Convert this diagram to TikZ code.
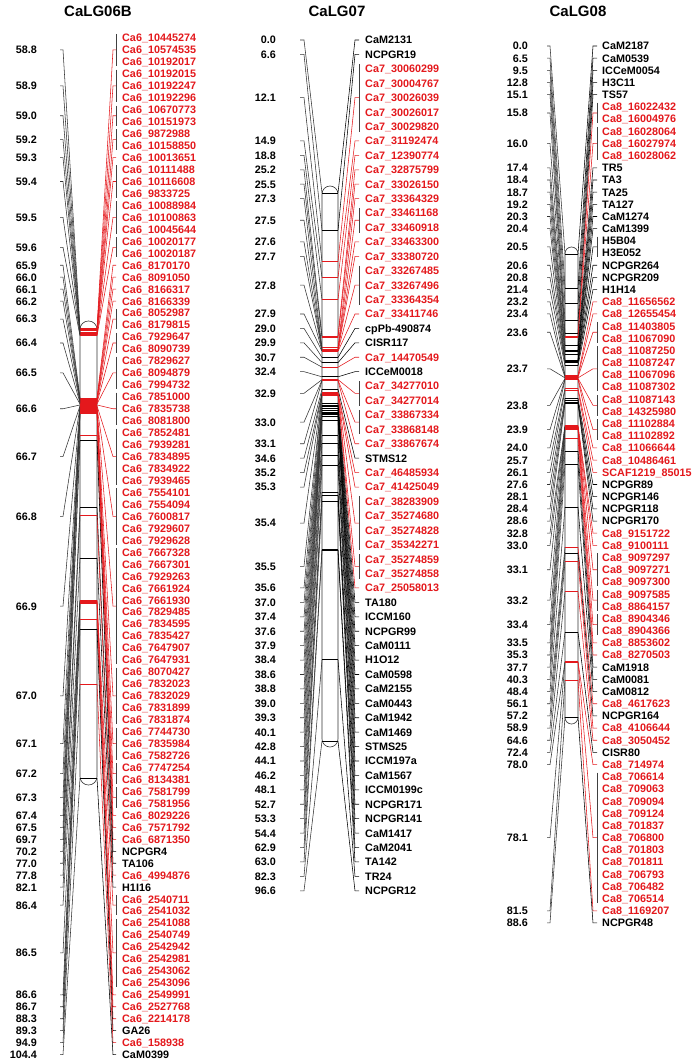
\documentclass[tikz,border=0pt]{standalone}
\usepackage{fontspec}
\setmainfont{Liberation Sans}
\definecolor{mkred}{RGB}{228,24,28}
\newcount\lblidx
% column parameters are set with \def before each column
\newcommand{\mg}[3]{%
  \pgfmathtruncatemacro{\gfirst}{\the\lblidx}%
  \foreach \nm in {#3}{%
    \pgfmathtruncatemacro{\ii}{\the\lblidx}%
    \pgfmathsetmacro{\yy}{\cYzero+\ii*\cDy}%
    \node[mk,text=#2] (m\cid-\ii) at (\cTextL,\yy) {\nm};%
    \global\advance\lblidx by 1\relax
  }%
  \pgfmathtruncatemacro{\glast}{\the\lblidx-1}%
  \pgfmathsetmacro{\yf}{\cYzero+\gfirst*\cDy}%
  \pgfmathsetmacro{\yl}{\cYzero+\glast*\cDy}%
  \pgfmathsetmacro{\yc}{(\yf+\yl)/2}%
  \pgfmathsetmacro{\yb}{\cBarTop+(#1-\cCmZero)*\cScale}%
  \node[poslbl] (p\cid-\gfirst) at (\cTextR,\yc) {#1};%
  \coordinate (tla\cid-\gfirst) at (\cTLa,\yc);%
  \coordinate (tlb\cid-\gfirst) at (\cTLb,\yc);%
  \coordinate (bl\cid-\gfirst) at (\cBL,\yb);%
  \coordinate (br\cid-\gfirst) at (\cBR,\yb);%
  \coordinate (tra\cid-\gfirst) at (\cTRa,\yc);%
  \coordinate (trb\cid-\gfirst) at (\cTRb,\yc);%
  \draw[conn] (tla\cid-\gfirst) -- (tlb\cid-\gfirst) -- (bl\cid-\gfirst);%
  \draw[conn,draw=#2] (br\cid-\gfirst) -- (tra\cid-\gfirst) -- (trb\cid-\gfirst);%
  \draw[barline,draw=#2] (bl\cid-\gfirst) -- (br\cid-\gfirst);%
  \ifnum\glast>\gfirst\relax
    \pgfmathsetmacro{\ya}{\yf-0.35*\cDy}%
    \pgfmathsetmacro{\yz}{\yl+0.35*\cDy}%
    \coordinate (bka\cid-\gfirst) at (\cTRb,\ya);%
    \coordinate (bkz\cid-\gfirst) at (\cTRb,\yz);%
    \draw[bracketline] (bka\cid-\gfirst) -- (bkz\cid-\gfirst);%
  \fi
}
\begin{document}
\begin{tikzpicture}[x=1pt,y=-1pt,
  mk/.style={font=\bfseries\fontsize{10.8}{12}\selectfont, inner sep=0pt, anchor=west, text height=7.8pt, text depth=0pt},
  poslbl/.style={font=\bfseries\fontsize{10.8}{12}\selectfont, inner sep=0pt, anchor=east, text height=7.8pt, text depth=0pt},
  ttl/.style={font=\bfseries\fontsize{15}{17}\selectfont, inner sep=0pt},
  conn/.style={draw=black!80, line width=0.55pt},
  barline/.style={line width=0.8pt},
  bracketline/.style={draw=black!75, line width=0.6pt},
  barbody/.style={draw=black!80, fill=white, line width=0.6pt}]
\useasboundingbox[fill=white] (0,0) rectangle (695,1063);
% titles
\node[ttl] (t1) at (98,11) {CaLG06B};
\node[ttl] (t2) at (337,11) {CaLG07};
\node[ttl] (t3) at (578,11) {CaLG08};
% ---------------- CaLG06B
\def\cid{a}\def\cYzero{38}\def\cDy{11.96}\def\cBarTop{328}\def\cCmZero{58.8}\def\cScale{9.868}
\def\cTextR{37}\def\cTLa{60}\def\cTLb{63}\def\cBL{80}\def\cBR{97}\def\cTRa{113}\def\cTRb{116}\def\cTextL{122}
\draw[barbody,rounded corners=8.4pt] (80,321) rectangle (97,785);
\global\lblidx=0
\mg{58.8}{mkred}{Ca6\_10445274,Ca6\_10574535,Ca6\_10192017}
\mg{58.9}{mkred}{Ca6\_10192015,Ca6\_10192247,Ca6\_10192296}
\mg{59.0}{mkred}{Ca6\_10670773,Ca6\_10151973}
\mg{59.2}{mkred}{Ca6\_9872988,Ca6\_10158850}
\mg{59.3}{mkred}{Ca6\_10013651}
\mg{59.4}{mkred}{Ca6\_10111488,Ca6\_10116608,Ca6\_9833725}
\mg{59.5}{mkred}{Ca6\_10088984,Ca6\_10100863,Ca6\_10045644}
\mg{59.6}{mkred}{Ca6\_10020177,Ca6\_10020187}
\mg{65.9}{mkred}{Ca6\_8170170}
\mg{66.0}{mkred}{Ca6\_8091050}
\mg{66.1}{mkred}{Ca6\_8166317}
\mg{66.2}{mkred}{Ca6\_8166339}
\mg{66.3}{mkred}{Ca6\_8052987,Ca6\_8179815}
\mg{66.4}{mkred}{Ca6\_7929647,Ca6\_8090739}
\mg{66.5}{mkred}{Ca6\_7829627,Ca6\_8094879,Ca6\_7994732}
\mg{66.6}{mkred}{Ca6\_7851000,Ca6\_7835738,Ca6\_8081800}
\mg{66.7}{mkred}{Ca6\_7852481,Ca6\_7939281,Ca6\_7834895,Ca6\_7834922,Ca6\_7939465}
\mg{66.8}{mkred}{Ca6\_7554101,Ca6\_7554094,Ca6\_7600817,Ca6\_7929607,Ca6\_7929628}
\mg{66.9}{mkred}{Ca6\_7667328,Ca6\_7667301,Ca6\_7929263,Ca6\_7661924,Ca6\_7661930,Ca6\_7829485,Ca6\_7834595,Ca6\_7835427,Ca6\_7647907,Ca6\_7647931}
\mg{67.0}{mkred}{Ca6\_8070427,Ca6\_7832023,Ca6\_7832029,Ca6\_7831899,Ca6\_7831874}
\mg{67.1}{mkred}{Ca6\_7744730,Ca6\_7835984,Ca6\_7582726}
\mg{67.2}{mkred}{Ca6\_7747254,Ca6\_8134381}
\mg{67.3}{mkred}{Ca6\_7581799,Ca6\_7581956}
\mg{67.4}{mkred}{Ca6\_8029226}
\mg{67.5}{mkred}{Ca6\_7571792}
\mg{69.7}{mkred}{Ca6\_6871350}
\mg{70.2}{black}{NCPGR4}
\mg{77.0}{black}{TA106}
\mg{77.8}{mkred}{Ca6\_4994876}
\mg{82.1}{black}{H1I16}
\mg{86.4}{mkred}{Ca6\_2540711,Ca6\_2541032}
\mg{86.5}{mkred}{Ca6\_2541088,Ca6\_2540749,Ca6\_2542942,Ca6\_2542981,Ca6\_2543062,Ca6\_2543096}
\mg{86.6}{mkred}{Ca6\_2549991}
\mg{86.7}{mkred}{Ca6\_2527768}
\mg{88.3}{mkred}{Ca6\_2214178}
\mg{89.3}{black}{GA26}
\mg{94.9}{mkred}{Ca6\_158938}
\mg{104.4}{black}{CaM0399}
% ---------------- CaLG07
\def\cid{b}\def\cYzero{40}\def\cDy{14.42}\def\cBarTop{193}\def\cCmZero{0}\def\cScale{5.673}
\def\cTextR{276}\def\cTLa{300}\def\cTLb{304}\def\cBL{322}\def\cBR{338}\def\cTRa{355}\def\cTRb{359}\def\cTextL{365}
\draw[barbody,rounded corners=8pt] (322,186) rectangle (338,747);
\global\lblidx=0
\mg{0.0}{black}{CaM2131}
\mg{6.6}{black}{NCPGR19}
\mg{12.1}{mkred}{Ca7\_30060299,Ca7\_30004767,Ca7\_30026039,Ca7\_30026017,Ca7\_30029820}
\mg{14.9}{mkred}{Ca7\_31192474}
\mg{18.8}{mkred}{Ca7\_12390774}
\mg{25.2}{mkred}{Ca7\_32875799}
\mg{25.5}{mkred}{Ca7\_33026150}
\mg{27.3}{mkred}{Ca7\_33364329}
\mg{27.5}{mkred}{Ca7\_33461168,Ca7\_33460918}
\mg{27.6}{mkred}{Ca7\_33463300}
\mg{27.7}{mkred}{Ca7\_33380720}
\mg{27.8}{mkred}{Ca7\_33267485,Ca7\_33267496,Ca7\_33364354}
\mg{27.9}{mkred}{Ca7\_33411746}
\mg{29.0}{black}{cpPb-490874}
\mg{29.9}{black}{CISR117}
\mg{30.7}{mkred}{Ca7\_14470549}
\mg{32.4}{black}{ICCeM0018}
\mg{32.9}{mkred}{Ca7\_34277010,Ca7\_34277014}
\mg{33.0}{mkred}{Ca7\_33867334,Ca7\_33868148}
\mg{33.1}{mkred}{Ca7\_33867674}
\mg{34.6}{black}{STMS12}
\mg{35.2}{mkred}{Ca7\_46485934}
\mg{35.3}{mkred}{Ca7\_41425049}
\mg{35.4}{mkred}{Ca7\_38283909,Ca7\_35274680,Ca7\_35274828,Ca7\_35342271}
\mg{35.5}{mkred}{Ca7\_35274859,Ca7\_35274858}
\mg{35.6}{mkred}{Ca7\_25058013}
\mg{37.0}{black}{TA180}
\mg{37.4}{black}{ICCM160}
\mg{37.6}{black}{NCPGR99}
\mg{37.9}{black}{CaM0111}
\mg{38.4}{black}{H1O12}
\mg{38.6}{black}{CaM0598}
\mg{38.8}{black}{CaM2155}
\mg{39.0}{black}{CaM0443}
\mg{39.3}{black}{CaM1942}
\mg{40.1}{black}{CaM1469}
\mg{42.8}{black}{STMS25}
\mg{44.1}{black}{ICCM197a}
\mg{46.2}{black}{CaM1567}
\mg{48.1}{black}{ICCM0199c}
\mg{52.7}{black}{NCPGR171}
\mg{53.3}{black}{NCPGR141}
\mg{54.4}{black}{CaM1417}
\mg{62.9}{black}{CaM2041}
\mg{63.0}{black}{TA142}
\mg{82.3}{black}{TR24}
\mg{96.6}{black}{NCPGR12}
% ---------------- CaLG08
\def\cid{c}\def\cYzero{46}\def\cDy{12.18}\def\cBarTop{254}\def\cCmZero{0}\def\cScale{5.226}
\def\cTextR{528}\def\cTLa{547}\def\cTLb{550}\def\cBL{565}\def\cBR{578}\def\cTRa{593}\def\cTRb{597}\def\cTextL{602}
\draw[barbody,rounded corners=6.5pt] (565,247) rectangle (578,724);
\global\lblidx=0
\mg{0.0}{black}{CaM2187}
\mg{6.5}{black}{CaM0539}
\mg{9.5}{black}{ICCeM0054}
\mg{12.8}{black}{H3C11}
\mg{15.1}{black}{TS57}
\mg{15.8}{mkred}{Ca8\_16022432,Ca8\_16004976}
\mg{16.0}{mkred}{Ca8\_16028064,Ca8\_16027974,Ca8\_16028062}
\mg{17.4}{black}{TR5}
\mg{18.4}{black}{TA3}
\mg{18.7}{black}{TA25}
\mg{19.2}{black}{TA127}
\mg{20.3}{black}{CaM1274}
\mg{20.4}{black}{CaM1399}
\mg{20.5}{black}{H5B04,H3E052}
\mg{20.6}{black}{NCPGR264}
\mg{20.8}{black}{NCPGR209}
\mg{21.4}{black}{H1H14}
\mg{23.2}{mkred}{Ca8\_11656562}
\mg{23.4}{mkred}{Ca8\_12655454}
\mg{23.6}{mkred}{Ca8\_11403805,Ca8\_11067090}
\mg{23.7}{mkred}{Ca8\_11087250,Ca8\_11087247,Ca8\_11067096,Ca8\_11087302}
\mg{23.8}{mkred}{Ca8\_11087143,Ca8\_14325980}
\mg{23.9}{mkred}{Ca8\_11102884,Ca8\_11102892}
\mg{24.0}{mkred}{Ca8\_11066644}
\mg{25.7}{mkred}{Ca8\_10486461}
\mg{26.1}{mkred}{SCAF1219\_85015}
\mg{27.6}{black}{NCPGR89}
\mg{28.1}{black}{NCPGR146}
\mg{28.4}{black}{NCPGR118}
\mg{28.6}{black}{NCPGR170}
\mg{32.8}{mkred}{Ca8\_9151722}
\mg{33.0}{mkred}{Ca8\_9100111}
\mg{33.1}{mkred}{Ca8\_9097297,Ca8\_9097271,Ca8\_9097300}
\mg{33.2}{mkred}{Ca8\_9097585,Ca8\_8864157}
\mg{33.4}{mkred}{Ca8\_8904346,Ca8\_8904366}
\mg{33.5}{mkred}{Ca8\_8853602}
\mg{35.3}{mkred}{Ca8\_8270503}
\mg{37.7}{black}{CaM1918}
\mg{40.3}{black}{CaM0081}
\mg{48.4}{black}{CaM0812}
\mg{56.1}{mkred}{Ca8\_4617623}
\mg{57.2}{black}{NCPGR164}
\mg{58.9}{mkred}{Ca8\_4106644}
\mg{64.6}{mkred}{Ca8\_3050452}
\mg{72.4}{black}{CISR80}
\mg{78.0}{mkred}{Ca8\_714974}
\mg{78.1}{mkred}{Ca8\_706614,Ca8\_709063,Ca8\_709094,Ca8\_709124,Ca8\_701837,Ca8\_706800,Ca8\_701803,Ca8\_701811,Ca8\_706793,Ca8\_706482,Ca8\_706514}
\mg{81.5}{mkred}{Ca8\_1169207}
\mg{88.6}{black}{NCPGR48}
\end{tikzpicture}
\end{document}
